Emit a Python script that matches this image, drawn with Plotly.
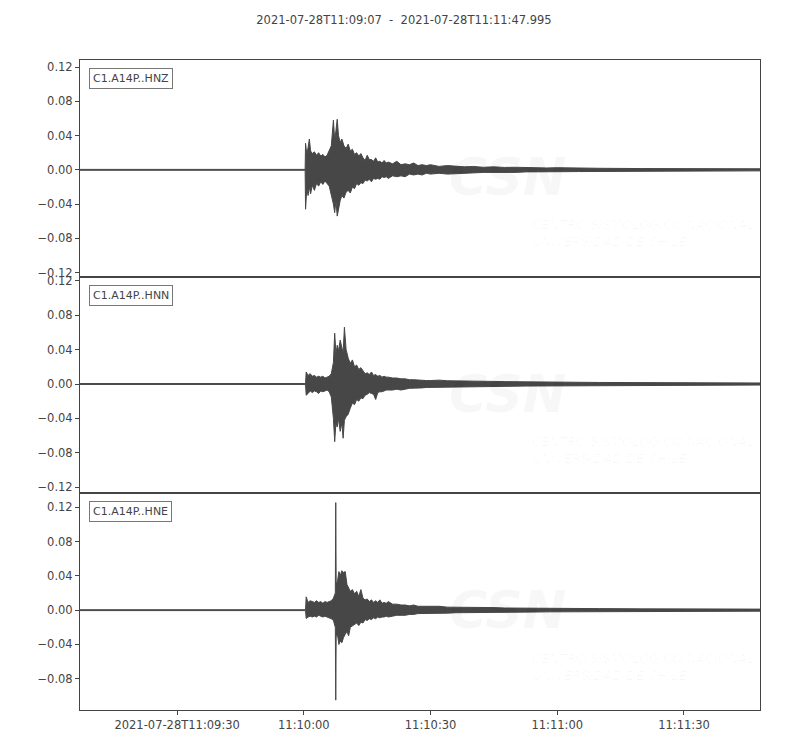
"""Three-component strong-motion record, station C1.A14P."""

import pandas as pd
import plotly.graph_objects as go
from plotly.subplots import make_subplots

# times in seconds after 2021-07-28T11:10:00, values are the trace envelope
REF_TIME = pd.Timestamp("2021-07-28T11:10:00")
START = "2021-07-28 11:09:07"
END = "2021-07-28 11:11:47.995"

CHANNELS = ["C1.A14P..HNZ", "C1.A14P..HNN", "C1.A14P..HNE"]

# strong-motion part, per channel
TIME_Z = [-53, 0.3, 0.4, 0.7, 1.0, 1.3, 1.6, 2.0, 2.5, 3.0, 3.5, 4.0, 4.5,
          5.0, 5.5, 6.0, 6.5, 7.0, 7.3, 7.6, 7.9, 8.2, 8.6, 9.0, 9.5, 10.0,
          10.5, 11.0, 11.5, 12.0, 12.5, 13.0, 13.5]
UPPER_Z = [0.0005, 0.0005, 0.031, 0.018, 0.026, 0.036, 0.022, 0.019, 0.021,
           0.017, 0.020, 0.016, 0.018, 0.015, 0.017, 0.022, 0.028, 0.058,
           0.035, 0.046, 0.059, 0.040, 0.032, 0.036, 0.028, 0.025, 0.030,
           0.022, 0.024, 0.018, 0.020, 0.016, 0.019]
LOWER_Z = [-0.0005, -0.0005, -0.046, -0.022, -0.030, -0.020, -0.028, -0.018,
           -0.024, -0.016, -0.019, -0.014, -0.017, -0.013, -0.016, -0.019,
           -0.030, -0.040, -0.050, -0.036, -0.054, -0.047, -0.036, -0.030,
           -0.033, -0.026, -0.024, -0.027, -0.020, -0.022, -0.016, -0.018,
           -0.015]

TIME_N = [-53, 0.4, 0.55, 1.0, 1.5, 2.0, 2.5, 3.0, 3.5, 4.0, 4.5, 5.0, 5.5,
          6.0, 6.5, 7.0, 7.3, 7.6, 7.9, 8.2, 8.6, 9.0, 9.3, 9.6, 10.0, 10.5,
          11.0, 11.5, 12.0, 12.5, 13.0, 13.5]
UPPER_N = [0.0005, 0.0005, 0.014, 0.010, 0.012, 0.009, 0.010, 0.008, 0.009,
           0.008, 0.009, 0.007, 0.008, 0.009, 0.012, 0.025, 0.059, 0.035,
           0.045, 0.038, 0.051, 0.040, 0.036, 0.066, 0.040, 0.030, 0.024,
           0.028, 0.020, 0.022, 0.017, 0.019]
LOWER_N = [-0.0005, -0.0005, -0.013, -0.011, -0.008, -0.010, -0.008, -0.009,
           -0.011, -0.008, -0.009, -0.008, -0.007, -0.009, -0.015, -0.040,
           -0.067, -0.045, -0.050, -0.040, -0.055, -0.045, -0.063, -0.042,
           -0.038, -0.035, -0.028, -0.022, -0.024, -0.018, -0.020, -0.016]

TIME_E = [-53, 0.4, 0.55, 1.0, 1.5, 2.0, 2.5, 3.0, 3.5, 4.0, 4.5, 5.0, 5.5,
          6.0, 6.5, 7.0, 7.45, 7.55, 7.65, 8.0, 8.3, 8.6, 9.0, 9.4, 9.8, 10.2,
          10.6, 11.0, 11.5, 12.0, 12.5, 13.0, 13.5]
UPPER_E = [0.0005, 0.0005, 0.0155, 0.009, 0.011, 0.010, 0.009, 0.011, 0.009,
           0.010, 0.008, 0.010, 0.009, 0.010, 0.011, 0.014, 0.020, 0.1255,
           0.030, 0.035, 0.045, 0.040, 0.046, 0.044, 0.045, 0.030, 0.026,
           0.022, 0.024, 0.019, 0.022, 0.016, 0.024]
LOWER_E = [-0.0005, -0.0005, -0.0097, -0.008, -0.007, -0.008, -0.007, -0.008,
           -0.006, -0.007, -0.008, -0.007, -0.008, -0.009, -0.010, -0.012,
           -0.020, -0.105, -0.030, -0.030, -0.040, -0.036, -0.038, -0.032,
           -0.028, -0.025, -0.030, -0.020, -0.018, -0.017, -0.015, -0.018,
           -0.014]

# coda, same time steps for all channels
CODA_TIME = [14.0, 14.5, 15.0, 15.5, 16.0, 16.5, 17.0, 17.5, 18.0, 18.5, 19.0,
             19.5, 20.0, 21.0, 22.0, 23.0, 24.0, 25.0, 26.0, 27.0, 28.0, 29.0,
             30.0, 32.0, 34.0, 36.0, 38.0, 40.0, 42.5, 45.0, 47.5, 50.0, 52.5,
             55.0, 57.5, 60.0, 65.0, 70.0, 80.0, 90.0, 107.995]
CODA_UPPER_Z = [0.014, 0.011, 0.017, 0.012, 0.012, 0.010, 0.014, 0.009, 0.010,
                0.008, 0.011, 0.008, 0.009, 0.007, 0.010, 0.006, 0.007, 0.006,
                0.008, 0.005, 0.006, 0.005, 0.006, 0.004, 0.005, 0.0045,
                0.0035, 0.004, 0.003, 0.0035, 0.0028, 0.003, 0.0025, 0.0028,
                0.0022, 0.0025, 0.002, 0.0018, 0.0015, 0.0013, 0.0012]
CODA_LOWER_Z = [-0.016, -0.012, -0.013, -0.011, -0.014, -0.010, -0.011, -0.010,
                -0.011, -0.008, -0.009, -0.008, -0.010, -0.007, -0.008, -0.007,
                -0.008, -0.005, -0.006, -0.005, -0.006, -0.004, -0.005, -0.004,
                -0.005, -0.004, -0.0035, -0.0035, -0.003, -0.003, -0.0026,
                -0.003, -0.0024, -0.0025, -0.0021, -0.0022, -0.002, -0.0016,
                -0.0014, -0.0012, -0.0012]
CODA_UPPER_N = [0.015, 0.012, 0.013, 0.011, 0.014, 0.010, 0.011, 0.009, 0.010,
                0.008, 0.009, 0.008, 0.008, 0.007, 0.007, 0.006, 0.006, 0.005,
                0.005, 0.0045, 0.0045, 0.004, 0.004, 0.0045, 0.0038, 0.0038,
                0.0032, 0.0032, 0.0032, 0.003, 0.0028, 0.0028, 0.0026, 0.0025,
                0.0024, 0.0023, 0.002, 0.0018, 0.0016, 0.0014, 0.0012]
CODA_LOWER_N = [-0.017, -0.013, -0.012, -0.010, -0.011, -0.012, -0.018, -0.010,
                -0.009, -0.009, -0.008, -0.007, -0.007, -0.007, -0.006, -0.007,
                -0.006, -0.005, -0.005, -0.0045, -0.0045, -0.004, -0.004,
                -0.004, -0.0036, -0.0035, -0.003, -0.003, -0.003, -0.0028,
                -0.0026, -0.0025, -0.0024, -0.0023, -0.0022, -0.0022, -0.002,
                -0.0017, -0.0015, -0.0013, -0.0012]
CODA_UPPER_E = [0.014, 0.012, 0.013, 0.010, 0.012, 0.009, 0.011, 0.009, 0.012,
                0.008, 0.009, 0.008, 0.010, 0.007, 0.007, 0.006, 0.006, 0.005,
                0.006, 0.0045, 0.0045, 0.0045, 0.004, 0.0045, 0.0035, 0.0035,
                0.003, 0.003, 0.003, 0.003, 0.0025, 0.0025, 0.0024, 0.0023,
                0.0023, 0.0022, 0.002, 0.0018, 0.0015, 0.0013, 0.0012]
CODA_LOWER_E = [-0.015, -0.011, -0.012, -0.010, -0.011, -0.009, -0.010, -0.008,
                -0.009, -0.008, -0.008, -0.007, -0.008, -0.007, -0.006, -0.006,
                -0.006, -0.005, -0.005, -0.004, -0.004, -0.004, -0.004,
                -0.0035, -0.0035, -0.003, -0.003, -0.003, -0.0025, -0.0025,
                -0.0025, -0.0025, -0.0022, -0.0022, -0.002, -0.002, -0.0018,
                -0.0016, -0.0014, -0.0012, -0.0012]

Y_RANGES = [(-0.1247, 0.1282), (-0.127, 0.1247), (-0.1165, 0.1363)]
Y_TICKS = [0.12, 0.08, 0.04, 0.0, -0.04, -0.08, -0.12]
Y_TICK_TEXT = ["0.12", "0.08", "0.04", "0.00", "\u22120.04", "\u22120.08", "\u22120.12"]
X_TICKS = ["2021-07-28 11:09:30", "2021-07-28 11:10:00", "2021-07-28 11:10:30",
           "2021-07-28 11:11:00", "2021-07-28 11:11:30"]
X_TICK_TEXT = ["2021-07-28T11:09:30", "11:10:00", "11:10:30", "11:11:00", "11:11:30"]

INK = "#444444"
WAVE = "#474747"
FONT = "DejaVu Sans"
WATERMARK = "rgba(0,0,0,0.03)"

records = [
    (TIME_Z + CODA_TIME, UPPER_Z + CODA_UPPER_Z, LOWER_Z + CODA_LOWER_Z),
    (TIME_N + CODA_TIME, UPPER_N + CODA_UPPER_N, LOWER_N + CODA_LOWER_N),
    (TIME_E + CODA_TIME, UPPER_E + CODA_UPPER_E, LOWER_E + CODA_LOWER_E),
]

fig = make_subplots(rows=3, cols=1, shared_xaxes=True, vertical_spacing=0)

for i, (times, upper, lower) in enumerate(records, start=1):
    assert len(times) == len(upper) == len(lower)
    stamps = list(REF_TIME + pd.to_timedelta(times, unit="s"))
    # envelope drawn as a closed band, like the dense trace in the original
    fig.add_trace(
        go.Scatter(
            x=stamps + stamps[::-1],
            y=upper + lower[::-1],
            fill="toself",
            fillcolor=WAVE,
            mode="lines",
            line={"color": WAVE, "width": 1},
            hoverinfo="skip",
            showlegend=False,
        ),
        row=i,
        col=1,
    )
    axis = "" if i == 1 else str(i)
    # faint CSN watermark
    fig.add_annotation(
        text="<b><i>CSN</i></b>", xref=f"x{axis} domain", yref=f"y{axis} domain",
        x=0.628, y=0.46, yanchor="middle", showarrow=False,
        font={"family": FONT, "size": 52, "color": WATERMARK},
    )
    fig.add_annotation(
        text="<i>CENTRO SISMOLÓGICO NACIONAL<br>UNIVERSIDAD DE CHILE</i>",
        xref=f"x{axis} domain", yref=f"y{axis} domain",
        x=0.662, y=0.2, xanchor="left", yanchor="middle", align="left",
        showarrow=False,
        font={"family": FONT, "size": 13, "color": WATERMARK},
    )
    fig.add_annotation(
        text=CHANNELS[i - 1], xref=f"x{axis} domain", yref=f"y{axis} domain",
        x=0, y=1, xanchor="left", yanchor="top", xshift=9, yshift=-8,
        showarrow=False, bordercolor="#777777", borderwidth=1, borderpad=3,
        bgcolor="white", font={"family": FONT, "size": 11, "color": INK},
    )
    fig.update_yaxes(
        range=list(Y_RANGES[i - 1]),
        tickvals=Y_TICKS,
        ticktext=Y_TICK_TEXT,
        row=i,
        col=1,
    )

fig.update_yaxes(
    showgrid=False, zeroline=False, showline=True, mirror=True,
    linecolor=INK, linewidth=1, ticks="outside", ticklen=4, tickcolor=INK,
    tickfont={"family": FONT, "size": 11.5, "color": INK},
)
fig.update_xaxes(
    range=[START, END], showgrid=False, zeroline=False, showline=True,
    mirror=True, linecolor=INK, linewidth=1,
)
fig.update_xaxes(
    tickvals=X_TICKS, ticktext=X_TICK_TEXT, ticks="outside", ticklen=4,
    tickcolor=INK, tickfont={"family": FONT, "size": 11.5, "color": INK},
    row=3, col=1,
)

fig.update_layout(
    width=792,
    height=742,
    margin={"l": 72, "r": 40, "t": 52, "b": 40},
    paper_bgcolor="white",
    plot_bgcolor="white",
    title={
        "text": f"{START.replace(' ', 'T')}  -  {END.replace(' ', 'T')}",
        "x": 0.5,
        "y": 0.984,
        "xanchor": "center",
        "yanchor": "middle",
        "font": {"family": FONT, "size": 11.5, "color": INK},
    },
)

fig.write_html("out.html")
